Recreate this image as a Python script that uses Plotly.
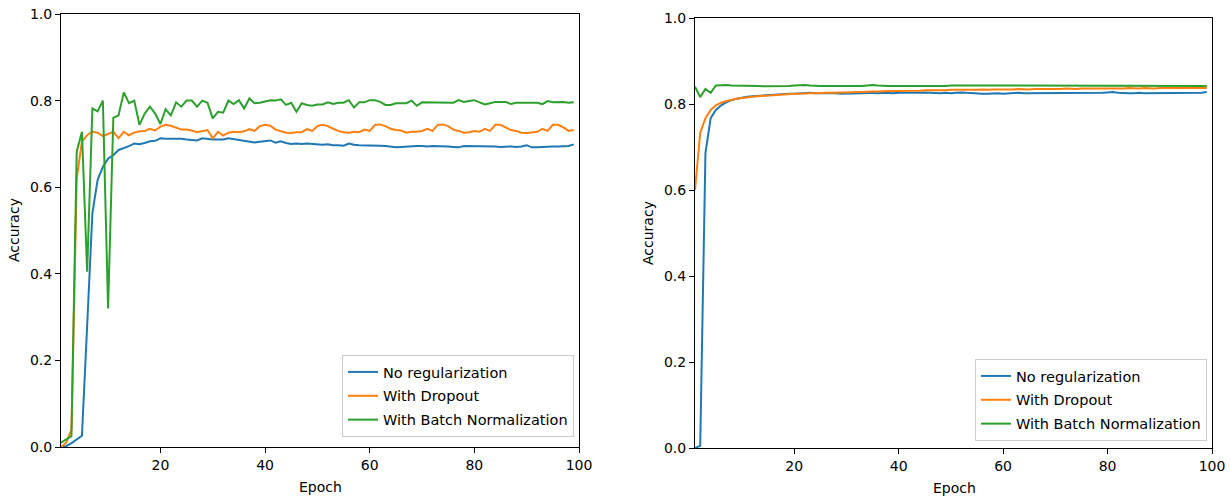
import plotly.graph_objects as go

epochs = list(range(1, 100))

# Left panel
left_no_reg = [
    0.000, 0.002, 0.009, 0.018, 0.026, 0.280, 0.540, 0.617, 0.647, 0.666,
    0.674, 0.686, 0.690, 0.695, 0.701, 0.699, 0.702, 0.706, 0.707, 0.713,
    0.712, 0.712, 0.713, 0.712, 0.710, 0.709, 0.708, 0.713, 0.711, 0.710,
    0.710, 0.710, 0.713, 0.711, 0.708, 0.706, 0.704, 0.703, 0.705, 0.707,
    0.708, 0.703, 0.706, 0.702, 0.700, 0.701, 0.700, 0.701, 0.700, 0.699,
    0.698, 0.699, 0.697, 0.697, 0.696, 0.701, 0.698, 0.697, 0.697, 0.697,
    0.696, 0.696, 0.695, 0.694, 0.692, 0.693, 0.694, 0.695, 0.695, 0.695,
    0.694, 0.695, 0.695, 0.694, 0.694, 0.693, 0.692, 0.695, 0.695, 0.694,
    0.694, 0.695, 0.694, 0.694, 0.693, 0.694, 0.694, 0.693, 0.694, 0.697,
    0.692, 0.692, 0.693, 0.693, 0.694, 0.694, 0.694, 0.695, 0.699,
]
left_dropout = [
    0.000, 0.010, 0.040, 0.620, 0.705, 0.720, 0.728, 0.726, 0.718, 0.723,
    0.728, 0.713, 0.728, 0.720, 0.726, 0.729, 0.730, 0.735, 0.731, 0.740,
    0.744, 0.742, 0.737, 0.733, 0.733, 0.731, 0.727, 0.730, 0.732, 0.713,
    0.728, 0.719, 0.726, 0.728, 0.727, 0.729, 0.734, 0.730, 0.741, 0.744,
    0.742, 0.733, 0.730, 0.726, 0.725, 0.727, 0.727, 0.734, 0.730, 0.741,
    0.744, 0.741, 0.735, 0.730, 0.727, 0.726, 0.728, 0.727, 0.733, 0.730,
    0.744, 0.745, 0.741, 0.735, 0.732, 0.731, 0.726, 0.728, 0.728, 0.730,
    0.735, 0.730, 0.744, 0.745, 0.741, 0.733, 0.730, 0.726, 0.727, 0.730,
    0.728, 0.735, 0.730, 0.744, 0.744, 0.738, 0.732, 0.730, 0.726, 0.725,
    0.727, 0.728, 0.735, 0.730, 0.744, 0.744, 0.738, 0.730, 0.732,
]
left_batchnorm = [
    0.010, 0.018, 0.025, 0.682, 0.728, 0.405, 0.782, 0.775, 0.800, 0.320,
    0.760, 0.766, 0.819, 0.794, 0.800, 0.744, 0.770, 0.786, 0.770, 0.746,
    0.780, 0.766, 0.796, 0.786, 0.800, 0.800, 0.786, 0.800, 0.795, 0.759,
    0.774, 0.772, 0.800, 0.792, 0.801, 0.782, 0.805, 0.794, 0.795, 0.798,
    0.801, 0.800, 0.803, 0.790, 0.795, 0.774, 0.794, 0.790, 0.788, 0.791,
    0.791, 0.796, 0.792, 0.795, 0.795, 0.801, 0.784, 0.796, 0.796, 0.801,
    0.801, 0.797, 0.790, 0.790, 0.794, 0.794, 0.794, 0.800, 0.788, 0.796,
    0.796, 0.796, 0.795, 0.795, 0.795, 0.795, 0.801, 0.797, 0.799, 0.801,
    0.796, 0.791, 0.794, 0.797, 0.797, 0.797, 0.792, 0.795, 0.795, 0.795,
    0.795, 0.795, 0.792, 0.799, 0.796, 0.796, 0.797, 0.795, 0.796,
]

# Right panel
right_no_reg = [
    0.000, 0.005, 0.686, 0.767, 0.786, 0.797, 0.804, 0.809, 0.812, 0.815,
    0.817, 0.818, 0.819, 0.820, 0.821, 0.822, 0.822, 0.823, 0.824, 0.824,
    0.825, 0.825, 0.826, 0.825, 0.825, 0.826, 0.825, 0.825, 0.824, 0.824,
    0.825, 0.824, 0.825, 0.826, 0.825, 0.825, 0.826, 0.825, 0.825, 0.826,
    0.826, 0.825, 0.825, 0.826, 0.827, 0.826, 0.826, 0.825, 0.826, 0.825,
    0.826, 0.827, 0.826, 0.825, 0.825, 0.824, 0.824, 0.825, 0.825, 0.824,
    0.825, 0.825, 0.826, 0.825, 0.825, 0.826, 0.825, 0.825, 0.825, 0.826,
    0.825, 0.825, 0.826, 0.826, 0.825, 0.826, 0.825, 0.825, 0.826, 0.827,
    0.828, 0.826, 0.825, 0.825, 0.825, 0.826, 0.825, 0.825, 0.826, 0.826,
    0.825, 0.826, 0.826, 0.825, 0.826, 0.826, 0.825, 0.826, 0.828,
]
right_dropout = [
    0.600, 0.733, 0.767, 0.786, 0.797, 0.803, 0.807, 0.810, 0.812, 0.814,
    0.816, 0.817, 0.818, 0.819, 0.820, 0.821, 0.821, 0.822, 0.823, 0.824,
    0.824, 0.825, 0.825, 0.825, 0.826, 0.826, 0.826, 0.827, 0.827, 0.827,
    0.828, 0.828, 0.828, 0.829, 0.829, 0.829, 0.830, 0.830, 0.830, 0.830,
    0.831, 0.831, 0.830, 0.831, 0.832, 0.832, 0.831, 0.832, 0.832, 0.833,
    0.833, 0.832, 0.833, 0.833, 0.833, 0.834, 0.833, 0.834, 0.834, 0.833,
    0.834, 0.834, 0.835, 0.834, 0.834, 0.835, 0.835, 0.834, 0.835, 0.835,
    0.835, 0.836, 0.835, 0.835, 0.836, 0.836, 0.835, 0.836, 0.836, 0.836,
    0.835, 0.836, 0.836, 0.837, 0.836, 0.836, 0.837, 0.836, 0.836, 0.837,
    0.837, 0.836, 0.837, 0.837, 0.836, 0.837, 0.837, 0.836, 0.837,
]
right_batchnorm = [
    0.840, 0.816, 0.835, 0.826, 0.843, 0.844, 0.844, 0.843, 0.843, 0.842,
    0.842, 0.842, 0.842, 0.841, 0.841, 0.841, 0.841, 0.841, 0.842, 0.843,
    0.844, 0.844, 0.843, 0.842, 0.842, 0.842, 0.842, 0.842, 0.841, 0.841,
    0.841, 0.841, 0.842, 0.843, 0.844, 0.843, 0.842, 0.842, 0.842, 0.842,
    0.842, 0.842, 0.842, 0.841, 0.841, 0.841, 0.841, 0.841, 0.842, 0.843,
    0.843, 0.843, 0.843, 0.842, 0.842, 0.842, 0.842, 0.842, 0.842, 0.842,
    0.842, 0.842, 0.842, 0.842, 0.843, 0.843, 0.843, 0.843, 0.843, 0.842,
    0.842, 0.842, 0.842, 0.842, 0.842, 0.842, 0.842, 0.842, 0.842, 0.843,
    0.843, 0.843, 0.842, 0.843, 0.843, 0.843, 0.842, 0.842, 0.842, 0.842,
    0.842, 0.842, 0.842, 0.842, 0.842, 0.842, 0.842, 0.842, 0.842,
]

series_names = ["No regularization", "With Dropout", "With Batch Normalization"]
colors = ["#1f77b4", "#ff7f0e", "#2ca02c"]
y_ticks = [0.0, 0.2, 0.4, 0.6, 0.8, 1.0]
x_ticks = [20, 40, 60, 80, 100]

FONT = "DejaVu Sans"
FS = 14
LFS = 14.5
W, H = 1230, 497

fig = go.Figure()

panels = [
    ("x", "y", "legend", [left_no_reg, left_dropout, left_batchnorm]),
    ("x2", "y2", "legend2", [right_no_reg, right_dropout, right_batchnorm]),
]
for xa, ya, lg, data in panels:
    for i, (name, vals) in enumerate(zip(series_names, data)):
        fig.add_trace(go.Scatter(
            x=epochs, y=vals, mode="lines", name=name,
            line=dict(color=colors[i], width=2),
            xaxis=xa, yaxis=ya, legend=lg, legendgroup=f"{lg}_{i}",
        ))

def px_x(p):
    return p / W

def px_y(p):
    return (H - p) / H

axis_common = dict(
    showgrid=False, zeroline=False, showline=True, linecolor="black", linewidth=1,
    mirror=True, ticks="outside", ticklen=5, tickwidth=1, tickcolor="black",
    tickfont=dict(family=FONT, size=FS, color="black"), automargin=False,
)

legend_common = dict(
    xanchor="right", yanchor="bottom",
    bgcolor="rgba(255,255,255,0.8)", bordercolor="#cccccc", borderwidth=1,
    font=dict(family=FONT, size=LFS, color="black"), itemwidth=30,
    tracegroupgap=2,
)

fig.update_layout(
    width=W, height=H,
    margin=dict(l=0, r=0, t=0, b=0),
    paper_bgcolor="white", plot_bgcolor="white",
    font=dict(family=FONT, size=FS, color="black"),
    xaxis=dict(domain=[px_x(61), px_x(579)], range=[1, 100], tickvals=x_ticks,
               anchor="y", **axis_common),
    yaxis=dict(domain=[px_y(447), px_y(14)], range=[0, 1], tickvals=y_ticks,
               tickformat=".1f", anchor="x", **axis_common),
    xaxis2=dict(domain=[px_x(695), px_x(1212)], range=[1, 100], tickvals=x_ticks,
                anchor="y2", **axis_common),
    yaxis2=dict(domain=[px_y(448), px_y(18)], range=[0, 1], tickvals=y_ticks,
                tickformat=".1f", anchor="x2", **axis_common),
    legend=dict(x=px_x(574), y=px_y(437), **legend_common),
    legend2=dict(x=px_x(1207), y=px_y(441), **legend_common),
    annotations=[
        dict(text="Accuracy", x=px_x(14), y=px_y(230), xref="paper", yref="paper",
             xanchor="center", yanchor="middle",
             textangle=-90, showarrow=False, font=dict(family=FONT, size=FS)),
        dict(text="Epoch", x=px_x(320), y=px_y(487), xref="paper", yref="paper",
             xanchor="center", yanchor="middle",
             showarrow=False, font=dict(family=FONT, size=FS)),
        dict(text="Accuracy", x=px_x(648), y=px_y(233), xref="paper", yref="paper",
             xanchor="center", yanchor="middle",
             textangle=-90, showarrow=False, font=dict(family=FONT, size=FS)),
        dict(text="Epoch", x=px_x(954), y=px_y(488), xref="paper", yref="paper",
             xanchor="center", yanchor="middle",
             showarrow=False, font=dict(family=FONT, size=FS)),
    ],
)

fig.write_html("out.html", config={"displayModeBar": False},
               post_script="document.body.style.margin='0';")
